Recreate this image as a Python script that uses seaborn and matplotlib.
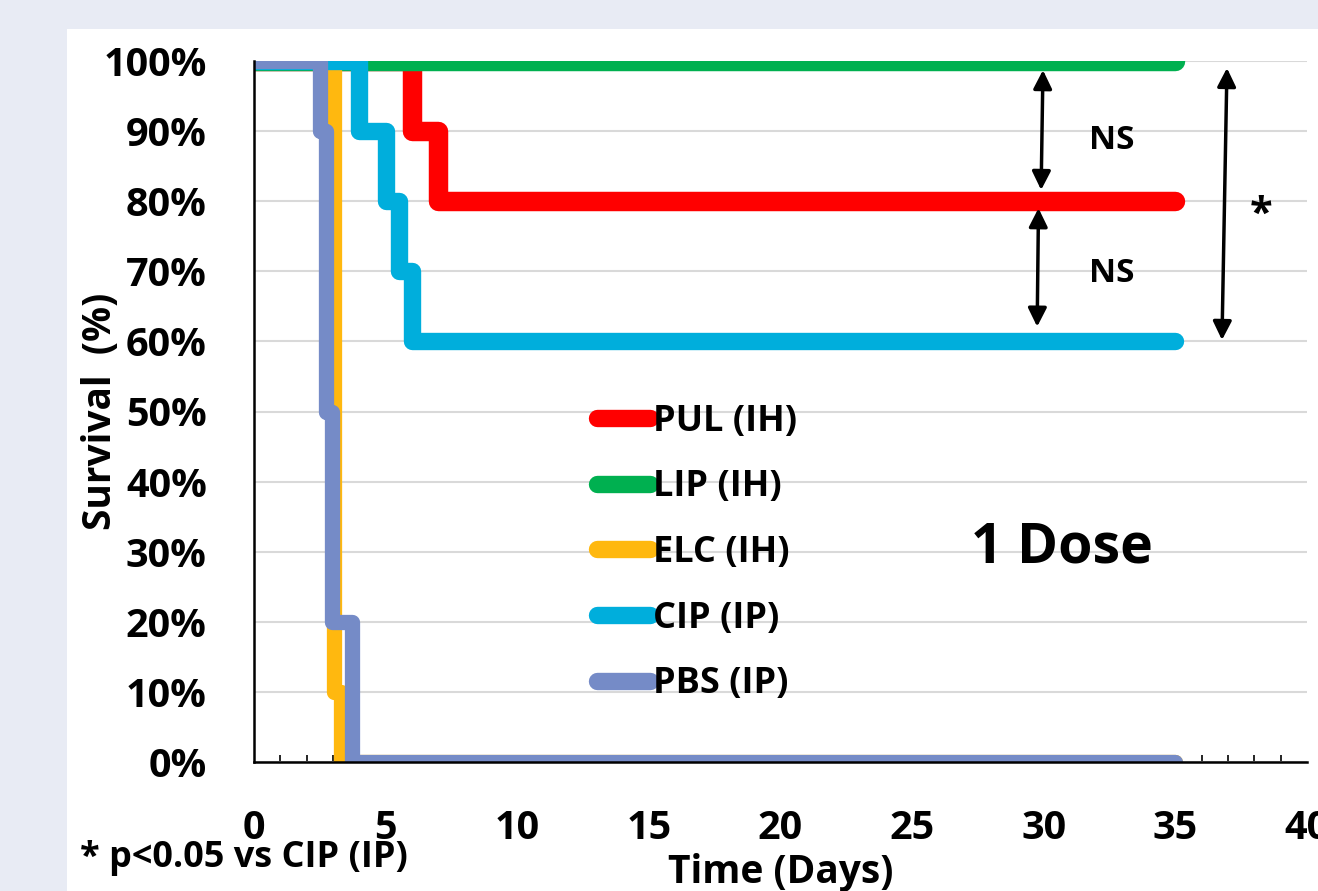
import matplotlib
matplotlib.use("Agg")
import matplotlib.pyplot as plt
from matplotlib.lines import Line2D
from matplotlib.patches import Rectangle
from matplotlib.ticker import FuncFormatter, MultipleLocator
import seaborn as sns
import pandas as pd

# ---- data ----
groups = ["PUL (IH)", "LIP (IH)", "ELC (IH)", "CIP (IP)", "PBS (IP)"]
pul_days = [0, 6, 7, 35]
pul_surv = [100, 90, 80, 80]
lip_days = [0, 35]
lip_surv = [100, 100]
elc_days = [0, 3.05, 3.3, 35]
elc_surv = [100, 10, 0, 0]
cip_days = [0, 4, 5, 5.5, 6, 35]
cip_surv = [100, 90, 80, 70, 60, 60]
pbs_days = [0, 2.5, 2.72, 2.98, 3.72, 35]
pbs_surv = [100, 90, 50, 20, 0, 0]

x_ticks = [0, 5, 10, 15, 20, 25, 30, 35, 40]
y_ticks = [0, 10, 20, 30, 40, 50, 60, 70, 80, 90, 100]
ns_label = "NS"
star_label = "*"
dose_label = "1 Dose"
foot_label = "* p<0.05 vs CIP (IP)"

colors = ["#FF0000", "#00B050", "#FFB80F", "#00AEDC", "#758BC7"]
widths = [14, 14, 11, 12.5, 11]
series = [(pul_days, pul_surv), (lip_days, lip_surv), (elc_days, elc_surv),
          (cip_days, cip_surv), (pbs_days, pbs_surv)]

sns.set_style("white")
plt.rcParams["font.family"] = ["Open Sans", "DejaVu Sans"]
plt.rcParams["font.weight"] = "bold"
plt.rcParams["text.color"] = "black"
plt.rcParams["axes.labelcolor"] = "black"

fig = plt.figure(figsize=(13.18, 8.91), dpi=100, facecolor="#E8EBF4")
fig.add_artist(Rectangle((67 / 1318, 0), 1 - 67 / 1318, (891 - 29) / 891,
                         transform=fig.transFigure, facecolor="white",
                         edgecolor="none", zorder=-10))
ax = fig.add_axes([254 / 1318, 129 / 891, (1307 - 254) / 1318, (762 - 61) / 891])
ax.set_facecolor("none")

for i, (name, (d, s)) in enumerate(zip(groups, series)):
    df = pd.DataFrame({"Day": d, "Survival": s})
    sns.lineplot(data=df, x="Day", y="Survival", ax=ax, color=colors[i],
                 lw=widths[i], drawstyle="steps-post", estimator=None,
                 solid_capstyle="round", solid_joinstyle="round",
                 zorder=3 + i, legend=False)

ax.set_xlim(0, 40)
ax.set_ylim(0, 100)
ax.set_xticks(x_ticks)
ax.xaxis.set_minor_locator(MultipleLocator(1))
ax.set_yticks(y_ticks)
ax.yaxis.set_major_formatter(FuncFormatter(lambda v, p: f"{int(v)}%"))
ax.grid(axis="y", color="#D9D9D9", lw=1.5, zorder=0)
ax.set_axisbelow(True)
for sp in ["top", "right"]:
    ax.spines[sp].set_visible(False)
for sp in ["left", "bottom"]:
    ax.spines[sp].set_color("black")
    ax.spines[sp].set_linewidth(1.8)
    ax.spines[sp].set_zorder(20)
ax.tick_params(axis="y", direction="in", length=11, width=1.8, pad=34,
               labelsize=28.5, colors="black")
ax.tick_params(axis="x", which="major", direction="in", length=7, width=1.5,
               pad=34, labelsize=28.5, colors="black")
ax.tick_params(axis="x", which="minor", direction="in", length=5, width=1.2,
               colors="black", bottom=True)
for lab in ax.get_xticklabels() + ax.get_yticklabels():
    lab.set_fontweight("bold")

ax.set_xlabel("Time (Days)", fontsize=28, fontweight="bold", color="black")
ax.xaxis.set_label_coords(0.5, -0.13)
ax.set_ylabel("Survival  (%)", fontsize=28, fontweight="bold", color="black")
ax.yaxis.set_label_coords(-0.146, 0.5)
ax.yaxis.label.set_va("center")
ax.yaxis.label.set_zorder(30)

# annotations
arrow_kw = dict(arrowstyle="<|-|>", color="black", lw=2.5, mutation_scale=28,
                shrinkA=0, shrinkB=0)
ax.annotate("", xy=(29.97, 98.7), xytext=(29.9, 81.6), arrowprops=arrow_kw, zorder=15)
ax.annotate("", xy=(29.8, 79.0), xytext=(29.75, 62.1), arrowprops=arrow_kw, zorder=15)
ax.annotate("", xy=(36.96, 99.0), xytext=(36.77, 60.2), arrowprops=arrow_kw, zorder=15)
ax.text(32.6, 88.7, ns_label, fontsize=24, fontweight="bold", ha="center", va="center",
        color="black")
ax.text(32.6, 69.7, ns_label, fontsize=24, fontweight="bold", ha="center", va="center",
        color="black")
ax.text(38.25, 78.0, star_label, fontsize=30, fontweight="bold", ha="center", va="center",
        clip_on=False, color="black")
ax.text(30.7, 30.5, dose_label, fontsize=40, fontweight="bold", ha="center", va="center",
        color="black")
fig.text(80 / 1318, 1 - 858 / 891, foot_label, fontsize=26, fontweight="bold",
         ha="left", va="center", color="black")

handles = [Line2D([0], [0], color=c, lw=12.5, solid_capstyle="round") for c in colors]
leg = ax.legend(handles, groups, loc="upper left", bbox_to_anchor=(0.326, 0.511),
                frameon=False, fontsize=26, handlelength=1.45, handletextpad=0.1,
                labelspacing=0.82, borderpad=0, borderaxespad=0)
for t in leg.get_texts():
    t.set_fontweight("bold")
    t.set_color("black")
leg.set_zorder(25)

fig.savefig("out.png", dpi=100, facecolor=fig.get_facecolor())
